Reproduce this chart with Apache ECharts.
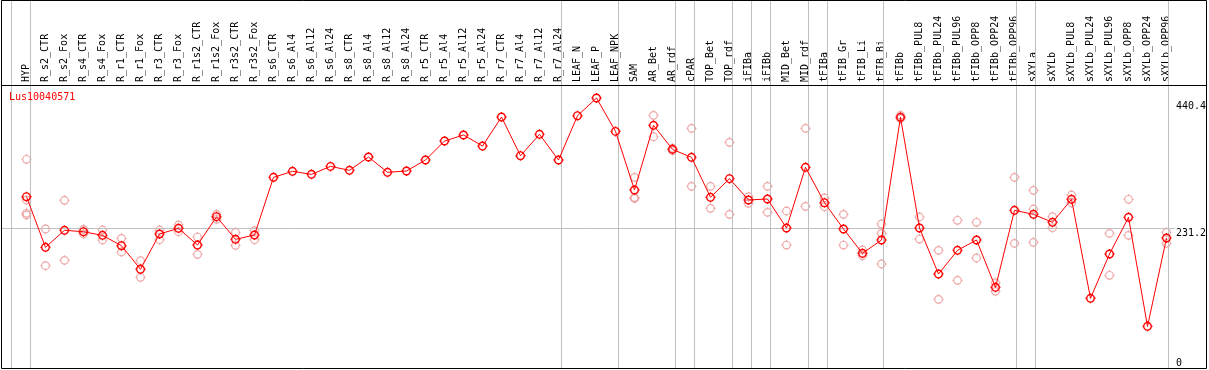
<!DOCTYPE html>
<html>
<head>
<meta charset="utf-8">
<script src="https://cdn.jsdelivr.net/npm/echarts@6/dist/echarts.min.js"></script>
<style>html,body{margin:0;padding:0;background:#fff}#c{width:1209px;height:370px}</style>
</head>
<body>
<div id="c"></div>
<script>
const chartTitle = 'Lus10040571';
const categories = ['HYP','R_s2_CTR','R_s2_Fox','R_s4_CTR','R_s4_Fox','R_r1_CTR','R_r1_Fox','R_r3_CTR','R_r3_Fox','R_r1s2_CTR','R_r1s2_Fox','R_r3s2_CTR','R_r3s2_Fox','R_s6_CTR','R_s6_Al4','R_s6_Al12','R_s6_Al24','R_s8_CTR','R_s8_Al4','R_s8_Al12','R_s8_Al24','R_r5_CTR','R_r5_Al4','R_r5_Al12','R_r5_Al24','R_r7_CTR','R_r7_Al4','R_r7_Al12','R_r7_Al24','LEAF_N','LEAF_P','LEAF_NPK','SAM','AR_Bet','AR_rdf','cPAR','TOP_Bet','TOP_rdf','iFIBa','iFIBb','MID_Bet','MID_rdf','tFIBa','tFIB_Gr','tFIB_Li','tFIB_Bi','tFIBb','tFIBb_PUL8','tFIBb_PUL24','tFIBb_PUL96','tFIBb_OPP8','tFIBb_OPP24','tFIBb_OPP96','sXYLa','sXYLb','sXYLb_PUL8','sXYLb_PUL24','sXYLb_PUL96','sXYLb_OPP8','sXYLb_OPP24','sXYLb_OPP96'];
const meanValues = [282.9,199.3,227.4,225.1,219.1,202.0,163.0,221.3,230.7,203.1,249.9,212.5,219.7,314.9,324.8,319.8,333.0,326.5,348.5,323.2,325.4,343.5,374.9,384.8,366.6,414.5,350.6,385.9,343.5,416.7,445.9,390.8,294.0,400.8,361.1,347.9,281.9,312.7,277.5,279.1,231.2,331.4,273.0,229.6,189.4,211.4,414.0,231.2,155.2,194.3,211.4,133.2,260.4,253.8,240.6,278.6,115.1,188.3,248.8,68.8,214.7];
const rep1 = [344.7,229.6,276.9,229.0,227.9,214.1,177.3,227.9,236.2,216.3,253.8,224.0,226.8,null,null,null,null,null,null,null,null,null,null,null,null,null,null,null,null,null,null,null,314.9,417.3,363.0,395.8,300.0,372.7,282.9,300.0,259.3,395.8,280.8,253.8,194.9,237.8,417.3,249.4,194.3,243.9,240.6,140.9,314.9,293.4,249.9,285.7,null,222.4,278.6,null,224.0];
const rep2 = [277.5,169.0,177.8,221.3,211.4,191.6,149.8,211.9,225.1,187.7,245.6,202.6,211.9,null,null,null,null,null,null,null,null,null,null,null,null,null,null,null,null,null,null,null,281.5,382.0,359.0,300.0,263.7,253.8,271.9,257.1,203.1,267.0,266.4,203.1,185.5,222.4,411.8,213.0,113.4,144.8,181.7,126.6,205.9,262.6,231.7,273.0,null,153.1,219.1,null,205.9];
const rep3 = [255.5,null,null,null,null,null,null,null,null,null,null,null,null,null,null,null,null,null,null,null,null,null,null,null,null,null,null,null,null,null,null,null,280.0,null,null,null,null,null,null,null,null,null,null,null,null,171.8,null,null,null,null,null,null,null,207.5,null,null,null,null,null,null,null];
const rep4 = [252.7,null,null,null,null,null,null,null,null,null,null,null,null,null,null,null,null,null,null,null,null,null,null,null,null,null,null,null,null,null,null,null,null,null,null,null,null,null,null,null,null,null,null,null,null,null,null,null,null,null,null,null,null,null,null,null,null,null,null,null,null];
const groupStarts = ['HYP','R_s2_CTR','LEAF_N','SAM','cPAR','TOP_Bet','iFIBa','iFIBb','MID_Bet','tFIBa','tFIB_Gr','tFIBb','sXYLa','sXYLb'];
const gridValue = 231.2;
const rightLabelsTop = [231.2, 440.4];
const rightLabelsBottom = [0];

// layout
const W = 1209;
const catLeft = 17, catRight = 1176;
const fullLeft = 1, fullRight = 1177;
const plotTop = 85, plotBottom = 368;
const yMax = 467.4;
const slot = (catRight - catLeft) / categories.length;
const xMin1 = -0.5 - (catLeft - fullLeft) / slot;
const xMax1 = categories.length - 0.5 + (fullRight - catRight) / slot;
const pxPerUnit = (plotBottom - plotTop) / yMax;
const yMax1 = plotBottom / pxPerUnit;

const sepValues = groupStarts.map(s => categories.indexOf(s) - 0.8);
sepValues.push(categories.length - 1 + 0.2);

const mono = 'DejaVu Sans Mono';
const markSym = 'path://M5,0L5,1.4M5,8.6L5,10M0,5L1.4,5M8.6,5L10,5' +
  'M8.8,5C8.8,7.1 7.1,8.8 5,8.8C2.9,8.8 1.2,7.1 1.2,5C1.2,2.9 2.9,1.2 5,1.2C7.1,1.2 8.8,2.9 8.8,5Z';

function repSeries(arr) {
  return {
    type: 'scatter', xAxisIndex: 0, yAxisIndex: 0, data: arr,
    symbol: markSym, symbolSize: 10,
    itemStyle: { color: 'rgba(0,0,0,0)', borderColor: '#ea8f8f', borderWidth: 1.2 },
    z: 3, silent: true
  };
}

const chart = echarts.init(document.getElementById('c'), null, { renderer: 'canvas' });
chart.setOption({
  animation: false,
  backgroundColor: '#ffffff',
  grid: [
    { left: catLeft, right: W - catRight, top: plotTop, bottom: 370 - plotBottom },
    { left: fullLeft, right: W - fullRight, top: 0, bottom: 370 - plotBottom }
  ],
  xAxis: [
    { type: 'category', gridIndex: 0, data: categories, position: 'top', boundaryGap: true,
      axisLine: { show: false }, axisTick: { show: false }, splitLine: { show: false },
      axisLabel: { interval: 0, rotate: 90, margin: 3, fontSize: 10, fontFamily: mono, color: '#000' } },
    { type: 'value', gridIndex: 1, min: xMin1, max: xMax1, show: false }
  ],
  yAxis: [
    { type: 'value', gridIndex: 0, min: 0, max: yMax, show: false },
    { type: 'value', gridIndex: 1, min: 0, max: yMax1, position: 'right',
      axisLine: { show: false }, axisTick: { show: false }, splitLine: { show: false },
      axisLabel: { customValues: rightLabelsTop, verticalAlign: 'top', align: 'left', margin: 1,
        fontSize: 10, fontFamily: mono, color: '#000', formatter: v => String(v) } },
    { type: 'value', gridIndex: 1, min: 0, max: yMax1, position: 'right',
      axisLine: { show: false }, axisTick: { show: false }, splitLine: { show: false },
      axisLabel: { customValues: rightLabelsBottom, verticalAlign: 'bottom', align: 'left', margin: 1,
        fontSize: 10, fontFamily: mono, color: '#000', formatter: v => String(v) } }
  ],
  series: [
    { type: 'line', xAxisIndex: 1, yAxisIndex: 1, data: [], silent: true, z: 1,
      markLine: { silent: true, symbol: 'none', label: { show: false }, animation: false,
        lineStyle: { color: '#c0c0c0', width: 1, type: 'solid' },
        data: sepValues.map(v => ({ xAxis: v })).concat([{ yAxis: gridValue }]) } },
    repSeries(rep1), repSeries(rep2), repSeries(rep3), repSeries(rep4),
    { type: 'line', xAxisIndex: 0, yAxisIndex: 0, data: meanValues,
      symbol: markSym, symbolSize: 10, showAllSymbol: true,
      lineStyle: { color: '#ff0000', width: 1 },
      itemStyle: { color: 'rgba(0,0,0,0)', borderColor: '#ff0000', borderWidth: 1.4 },
      z: 5, silent: true }
  ],
  graphic: [
    { type: 'rect', shape: { x: 1.5, y: 0.5, width: 1205, height: 368 }, style: { fill: null, stroke: '#000', lineWidth: 1 }, z: 10, silent: true },
    { type: 'line', shape: { x1: 1.5, y1: 85.5, x2: 1206.5, y2: 85.5 }, style: { stroke: '#000', lineWidth: 1 }, z: 10, silent: true },
    { type: 'text', left: 9, top: 92, style: { text: chartTitle, fill: '#ff0000', font: '10px "DejaVu Sans Mono"' }, z: 10, silent: true }
  ]
});
</script>
</body>
</html>
